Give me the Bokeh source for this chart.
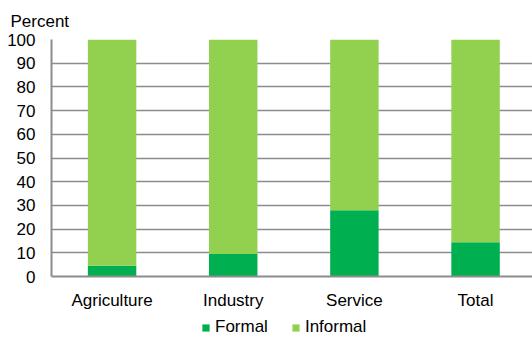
from bokeh.plotting import figure
from bokeh.layouts import column
from bokeh.models import Range1d, FixedTicker, Legend, LegendItem, ColumnDataSource, Title
from bokeh.embed import file_html
from bokeh.resources import INLINE

categories = ["Agriculture", "Industry", "Service", "Total"]
formal = [4.5, 9.5, 28.0, 14.5]
informal = [95.5, 90.5, 72.0, 85.5]
y_ticks = [0, 10, 20, 30, 40, 50, 60, 70, 80, 90, 100]
series_names = ["Formal", "Informal"]
colors = ["#00B050", "#92D050"]

FONT = "Liberation Sans"
FS = "17px"

xpos = [i + 0.5 for i in range(len(categories))]
src = ColumnDataSource(dict(x=xpos, Formal=formal, Informal=informal))

p = figure(width=532, height=316, output_backend="svg", toolbar_location=None,
           x_range=Range1d(0, 3.97), y_range=Range1d(0, 100),
           min_border_left=51, min_border_right=0, min_border_top=39, min_border_bottom=40)
p.outline_line_color = None
p.background_fill_color = "white"
p.border_fill_color = "white"

renderers = p.vbar_stack(series_names, x="x", width=0.4, source=src, color=colors,
                         line_color=None)

# title
t = Title(text="Percent", align="left", offset=-41, standoff=17,
          text_font=FONT, text_font_size=FS, text_font_style="normal",
          text_color="#000000")
p.title = t

# axes
p.xaxis.ticker = FixedTicker(ticks=xpos)
p.xaxis.major_label_overrides = {x: c for x, c in zip(xpos, categories)}
p.yaxis.ticker = FixedTicker(ticks=y_ticks)
for ax in (p.xaxis, p.yaxis):
    ax.axis_line_color = "#8c8c8c"
    ax.axis_line_width = 2
    ax.major_tick_line_color = None
    ax.minor_tick_line_color = None
    ax.major_tick_out = 0
    ax.major_tick_in = 0
    ax.major_label_text_font = FONT
    ax.major_label_text_font_size = FS
    ax.major_label_text_color = "#000000"
p.yaxis.major_label_standoff = 16
p.xaxis.major_label_standoff = 14

p.xgrid.grid_line_color = None
p.ygrid.ticker = FixedTicker(ticks=y_ticks)
p.ygrid.grid_line_color = "#8c8c8c"
p.ygrid.grid_line_width = 1.5

# legend strip below the chart (legend proxies are zero-size bars)
pl = figure(width=532, height=21, output_backend="svg", toolbar_location=None,
            x_range=Range1d(0, 1), y_range=Range1d(0, 1),
            x_axis_type=None, y_axis_type=None,
            min_border_left=0, min_border_right=0, min_border_top=0, min_border_bottom=0)
pl.outline_line_color = None
pl.xgrid.visible = False
pl.ygrid.visible = False
proxies = [pl.vbar(x=[0], top=[0], bottom=[0], width=0, color=c, line_color=None)
           for c in colors]
legend = Legend(items=[LegendItem(label=n, renderers=[r]) for n, r in zip(series_names, proxies)],
                orientation="horizontal", location=(150, 0),
                glyph_width=9, glyph_height=9, label_standoff=5, spacing=23,
                padding=0, margin=0, border_line_color=None, background_fill_alpha=0,
                label_text_font=FONT, label_text_font_size=FS,
                label_text_color="#000000")
pl.add_layout(legend, "center")

layout = column(p, pl, spacing=0)
open("out.html", "w").write(file_html(layout, INLINE))
